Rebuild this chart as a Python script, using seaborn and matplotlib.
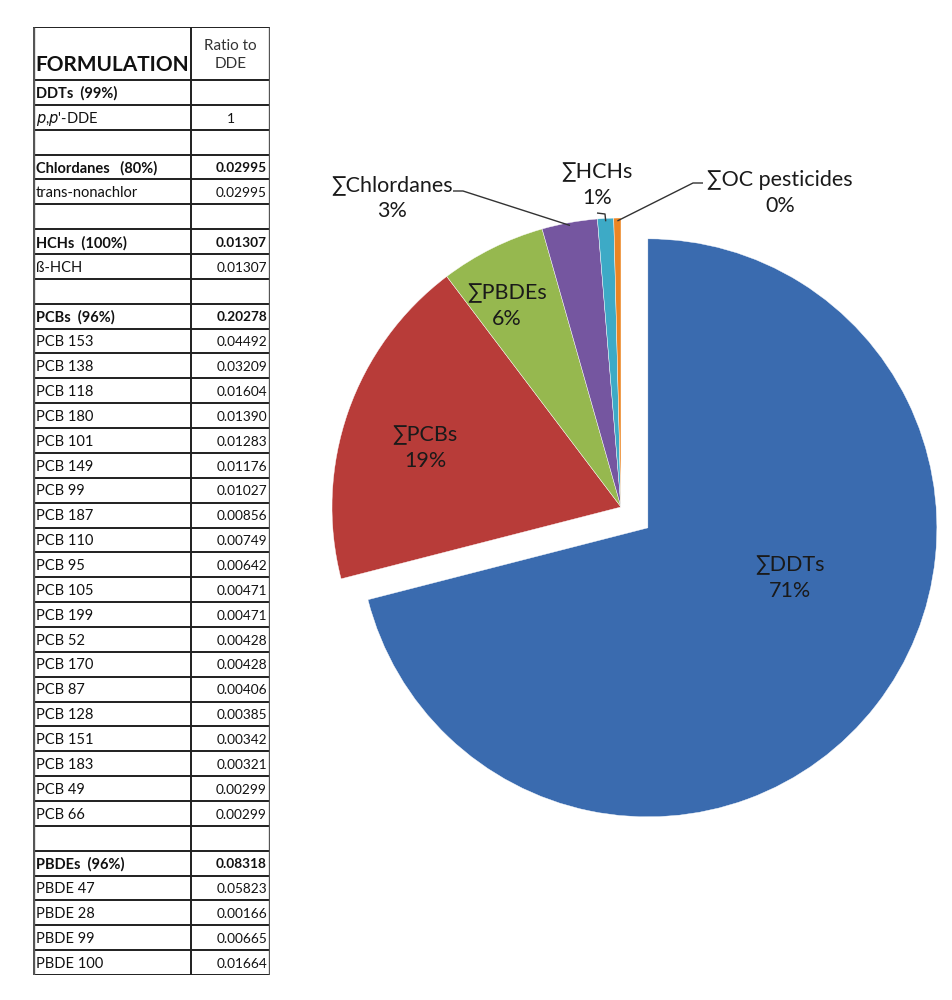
import numpy as np
import pandas as pd
import matplotlib
matplotlib.use("Agg")
import matplotlib.pyplot as plt
import seaborn as sns

# pie data (share of total, %)
groups = ["∑DDTs", "∑PCBs", "∑PBDEs", "∑Chlordanes", "∑HCHs", "∑OC pesticides"]
shares = [71.0, 18.7, 5.9, 3.1, 0.9, 0.4]
pct_labels = ["71%", "19%", "6%", "3%", "1%", "0%"]
slice_colors = ["#3A6BAF", "#B83C39", "#96B84F", "#7556A0", "#3DAAC6", "#EB8523"]

# table data
formulation = [
    "DDTs  (99%)", "$\\it{p}$,$\\it{p}$'-DDE", "",
    "Chlordanes   (80%)", "trans-nonachlor", "",
    "HCHs  (100%)", "ß-HCH", "",
    "PCBs  (96%)", "PCB 153", "PCB 138", "PCB 118", "PCB 180", "PCB 101",
    "PCB 149", "PCB 99", "PCB 187", "PCB 110", "PCB 95", "PCB 105", "PCB 199",
    "PCB 52", "PCB 170", "PCB 87", "PCB 128", "PCB 151", "PCB 183", "PCB 49",
    "PCB 66", "",
    "PBDEs  (96%)", "PBDE 47", "PBDE 28", "PBDE 99", "PBDE 100",
]
ratio_to_dde = [
    "", "1", "",
    "0.02995", "0.02995", "",
    "0.01307", "0.01307", "",
    "0.20278", "0.04492", "0.03209", "0.01604", "0.01390", "0.01283",
    "0.01176", "0.01027", "0.00856", "0.00749", "0.00642", "0.00471", "0.00471",
    "0.00428", "0.00428", "0.00406", "0.00385", "0.00342", "0.00321", "0.00299",
    "0.00299", "",
    "0.08318", "0.05823", "0.00166", "0.00665", "0.01664",
]

table = pd.DataFrame({"formulation": formulation, "ratio": ratio_to_dde})
table["bold"] = table["formulation"].str.contains("%")

sns.set_theme(style="white")
plt.rcParams["font.family"] = ["Lato", "DejaVu Sans"]
plt.rcParams["mathtext.fontset"] = "dejavusans"

fig = plt.figure(figsize=(9.52, 10), dpi=100)
fig.patch.set_facecolor("white")

# ---- pie ----
R = 289.0
cx, cy = 621.0, 507.0
ax = fig.add_axes([0, 0, 1, 1])
wedges, _ = ax.pie(
    shares,
    colors=slice_colors,
    startangle=90,
    counterclock=False,
    explode=[34 / R, 0, 0, 0, 0, 0],
    radius=1.0,
    wedgeprops=dict(edgecolor="#ffffff", linewidth=0.3),
)
ax.set_xlim(-cx / R, (952 - cx) / R)
ax.set_ylim(-(1000 - cy) / R, cy / R)
ax.set_aspect("equal")
ax.set_axis_off()


def to_data(px, py):
    return (px - cx) / R, (cy - py) / R


lab_font = dict(fontsize=15.5, color="#1a1a1a", ha="center", va="center", linespacing=1.4)

# inside labels (px positions in the figure)
inside_pos = {0: (790, 578), 1: (425, 448), 2: (507, 306)}
for i, (px, py) in inside_pos.items():
    ax.text(*to_data(px, py), f"{groups[i]}\n{pct_labels[i]}", **lab_font)

# outside labels with leader lines (text anchor, elbow)
outside_pos = {3: (392, 198), 4: (597, 185), 5: (780, 193)}
leader_pts = {3: [(453, 191), (463, 191)],
              4: [(597, 213), (605, 214)],
              5: [(703, 183), (693, 183)]}
for i, (px, py) in outside_pos.items():
    w = wedges[i]
    ang = np.deg2rad(0.5 * (w.theta1 + w.theta2))
    end = (np.cos(ang) * 0.99, np.sin(ang) * 0.99)
    ax.text(*to_data(px, py), f"{groups[i]}\n{pct_labels[i]}", **lab_font)
    pts = [to_data(*p) for p in leader_pts[i]] + [end]
    xs, ys = zip(*pts)
    ax.plot(xs, ys, color="#333333", lw=1.0, solid_capstyle="butt")

# ---- table ----
left_px, right_px, top_px, bot_px = 33, 270, 27, 975
n = len(table)
row_px = 24.86
head = (80 - top_px) / row_px
tax = fig.add_axes([left_px / 952, 1 - bot_px / 1000,
                    (right_px - left_px) / 952, (bot_px - top_px) / 1000])
tax.set_xlim(0, 1)
tax.set_ylim(n, -head)
tax.set_axis_off()
split = (191 - left_px) / (right_px - left_px)

tax.hlines(np.arange(0, n + 1), 0, 1, color="#1f1f1f", lw=1.4)
tax.hlines([-head], 0, 1, color="#1f1f1f", lw=1.4)
tax.vlines([0, 1], -head, n, color="#555555", lw=2.4)
tax.vlines([split], -head, n, color="#1f1f1f", lw=1.4)

tax.text(0.01, -0.62, "FORMULATION", fontsize=15, fontweight="bold",
         color="#111111", ha="left", va="center")
tax.text((split + 1) / 2, -1.0, "Ratio to\nDDE", fontsize=11, color="#333333",
         ha="center", va="center", linespacing=1.3)

for i, row in table.iterrows():
    weight = "bold" if row["bold"] else "normal"
    tax.text(0.012, i + 0.55, row["formulation"], fontsize=10.5, fontweight=weight,
             color="#111111", ha="left", va="center")
    if row["ratio"] == "1":
        tax.text((split + 1) / 2, i + 0.55, row["ratio"], fontsize=10,
                 color="#111111", ha="center", va="center")
    elif row["ratio"]:
        tax.text(0.987, i + 0.55, row["ratio"], fontsize=9.8, fontweight=weight,
                 color="#111111", ha="right", va="center")

fig.savefig("out.png", dpi=100, facecolor="white")
